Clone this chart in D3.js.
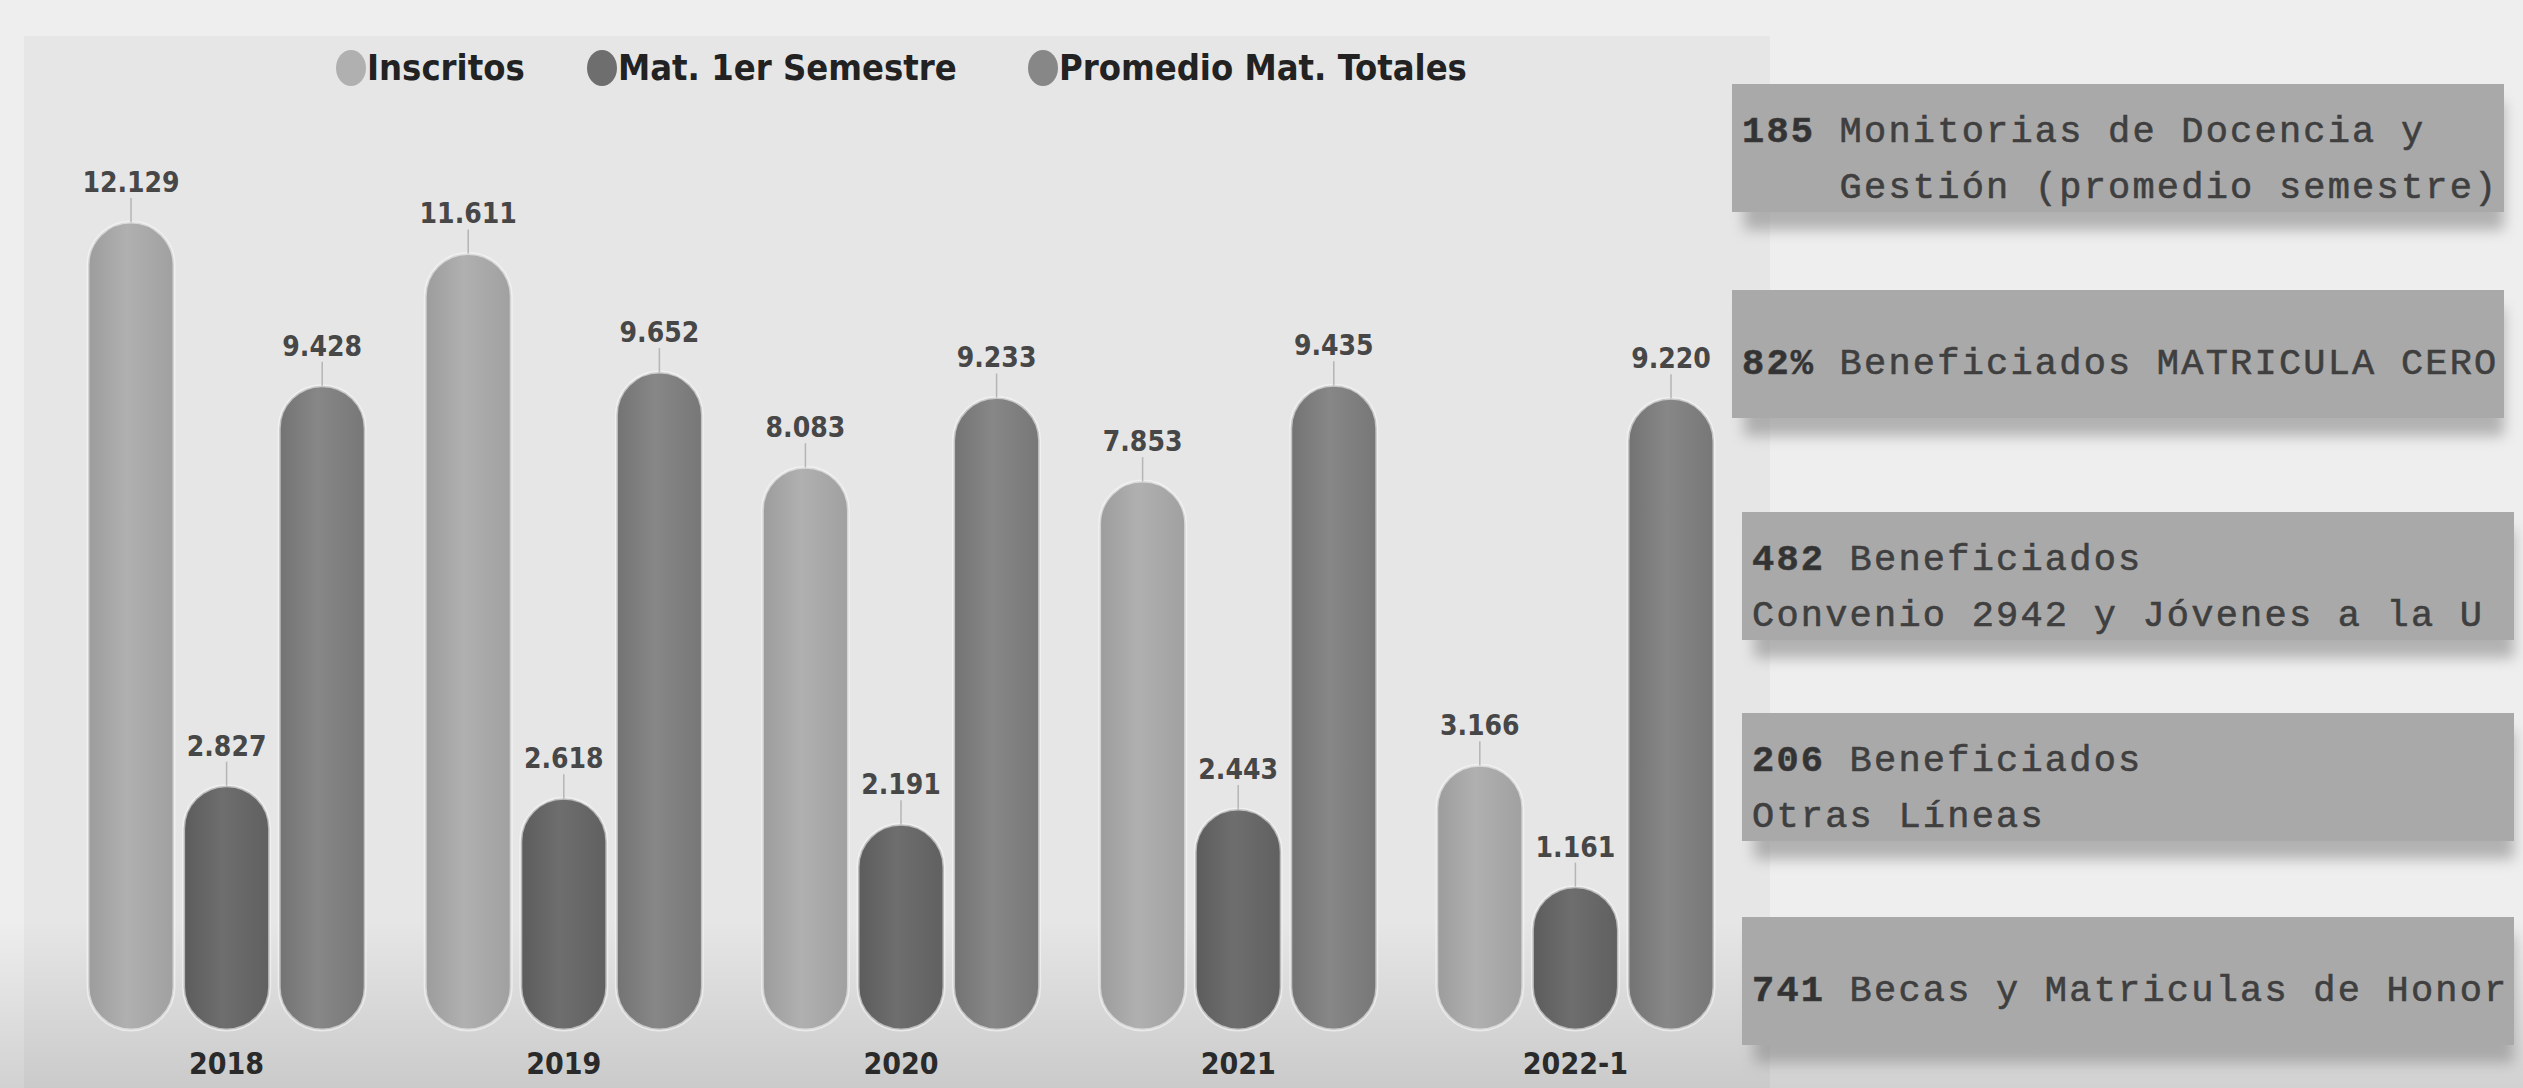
<!DOCTYPE html>
<html>
<head>
<meta charset="utf-8">
<script src="https://cdn.jsdelivr.net/npm/d3@7"></script>
<style>
  body { margin: 0; background: #ececec; }
  svg { display: block; }
  .lbl { font-family: "Liberation Sans Narrow", "DejaVu Sans Condensed", "Open Sans", sans-serif; font-stretch: condensed; }
  .mono { font-family: "Liberation Mono", "DejaVu Sans Mono", monospace; white-space: pre; }
</style>
</head>
<body>
<div class="container"></div>
<script>
// chart data
var years = ["2018", "2019", "2020", "2021", "2022-1"];
var seriesNames = ["Inscritos", "Mat. 1er Semestre", "Promedio Mat. Totales"];
var inscritos = [12129, 11611, 8083, 7853, 3166];
var matPrimer = [2827, 2618, 2191, 2443, 1161];
var promedioTotales = [9428, 9652, 9233, 9435, 9220];

// side boxes
var boxNumbers = ["185", "82%", "482", "206", "741"];
var boxFirstLines = ["Monitorias de Docencia y", "Beneficiados MATRICULA CERO", "Beneficiados", "Beneficiados", "Becas y Matriculas de Honor"];
var boxSecondLines = ["    Gestión (promedio semestre)", "", "Convenio 2942 y Jóvenes a la U", "Otras Líneas", ""];

var svgWidth = 2523;
var svgHeight = 1088;
var baseY = 1030;

var svg = d3.select(".container").append("svg")
  .attr("width", svgWidth)
  .attr("height", svgHeight);

var defs = svg.append("defs");

// background
svg.append("rect").attr("width", svgWidth).attr("height", svgHeight).attr("fill", "#eeeeee");
svg.append("rect").attr("x", 24).attr("y", 36).attr("width", 1746).attr("height", svgHeight - 36).attr("fill", "#e6e6e6");
var bottomGrad = defs.append("linearGradient").attr("id", "bottomShade").attr("x1", 0).attr("y1", 0).attr("x2", 0).attr("y2", 1);
bottomGrad.append("stop").attr("offset", "0%").attr("stop-color", "#000").attr("stop-opacity", 0);
bottomGrad.append("stop").attr("offset", "100%").attr("stop-color", "#000").attr("stop-opacity", 0.12);
svg.append("rect").attr("x", 0).attr("y", 920).attr("width", svgWidth).attr("height", 168).attr("fill", "url(#bottomShade)");

// bar colours with a soft cylinder shading
var barColors = [
  ["#9c9c9c", "#b0b0b0", "#a0a0a0"],
  ["#5c5c5c", "#6e6e6e", "#606060"],
  ["#737373", "#878787", "#777777"]
];
barColors.forEach(function(c, i) {
  var g = defs.append("linearGradient").attr("id", "barGrad" + i);
  g.append("stop").attr("offset", "0%").attr("stop-color", c[0]);
  g.append("stop").attr("offset", "45%").attr("stop-color", c[1]);
  g.append("stop").attr("offset", "100%").attr("stop-color", c[2]);
});

var blur = defs.append("filter").attr("id", "shadow").attr("x", "-10%").attr("y", "-30%").attr("width", "120%").attr("height", "180%");
blur.append("feGaussianBlur").attr("stdDeviation", 7);

// scales
var x0 = d3.scaleBand().domain(years).range([58, 1744]);
var x1 = d3.scaleBand().domain(seriesNames).range([30, x0.bandwidth() - 30]).paddingInner(0.1);
var y = d3.scaleLinear().domain([0, d3.max(inscritos)]).range([957, 222]);

var fmt = d3.formatLocale({ decimal: ",", thousands: ".", grouping: [3], currency: ["$", ""] }).format(",");

var rows = [];
years.forEach(function(yr, i) {
  [inscritos[i], matPrimer[i], promedioTotales[i]].forEach(function(v, s) {
    rows.push({ year: yr, series: seriesNames[s], s: s, value: v });
  });
});

var chartGroup = svg.append("g");

chartGroup.selectAll("rect.bar")
  .data(rows)
  .enter()
  .append("rect")
  .attr("class", "bar")
  .attr("x", d => x0(d.year) + x1(d.series))
  .attr("y", d => y(d.value))
  .attr("width", x1.bandwidth())
  .attr("height", d => baseY - y(d.value))
  .attr("rx", x1.bandwidth() / 2)
  .attr("fill", d => "url(#barGrad" + d.s + ")")
  .attr("stroke", "#f6f6f6")
  .attr("stroke-opacity", 0.6)
  .attr("stroke-width", 3);

// connector ticks
chartGroup.selectAll("line.tick")
  .data(rows)
  .enter()
  .append("line")
  .attr("x1", d => x0(d.year) + x1(d.series) + x1.bandwidth() / 2)
  .attr("x2", d => x0(d.year) + x1(d.series) + x1.bandwidth() / 2)
  .attr("y1", d => y(d.value) - 24)
  .attr("y2", d => y(d.value))
  .attr("stroke", "#b5b5b5")
  .attr("stroke-width", 1.5);

// value labels
chartGroup.selectAll("text.val")
  .data(rows)
  .enter()
  .append("text")
  .attr("class", "lbl")
  .attr("x", d => x0(d.year) + x1(d.series) + x1.bandwidth() / 2)
  .attr("y", d => y(d.value) - 30)
  .attr("text-anchor", "middle")
  .attr("font-size", 28)
  .attr("font-weight", 700)
  .attr("fill", "#474747")
  .text(d => fmt(d.value));

// year labels
chartGroup.selectAll("text.year")
  .data(years)
  .enter()
  .append("text")
  .attr("class", "lbl")
  .attr("x", d => x0(d) + x1(seriesNames[1]) + x1.bandwidth() / 2)
  .attr("y", 1074)
  .attr("text-anchor", "middle")
  .attr("font-size", 30)
  .attr("font-weight", 700)
  .attr("fill", "#2a2a2a")
  .text(d => d);

// legend
var legendX = [351, 602, 1043];
var legend = svg.append("g").selectAll("g")
  .data(seriesNames)
  .enter()
  .append("g")
  .attr("transform", (d, i) => `translate(${legendX[i]}, 68)`);

legend.append("ellipse")
  .attr("rx", 15)
  .attr("ry", 18)
  .attr("fill", (d, i) => barColors[i][1]);

legend.append("text")
  .attr("class", "lbl")
  .attr("x", 16)
  .attr("y", 12)
  .attr("font-size", 36)
  .attr("font-weight", 700)
  .attr("fill", "#222")
  .text(d => d);

// highlight boxes on the right
var boxTops = [84, 290, 512, 713, 917];
var boxes = svg.append("g").selectAll("g")
  .data(boxNumbers)
  .enter()
  .append("g")
  .attr("transform", (d, i) => `translate(${i < 2 ? 1732 : 1742}, ${boxTops[i]})`);

boxes.append("rect")
  .attr("x", 12)
  .attr("y", 18)
  .attr("width", 760)
  .attr("height", 128)
  .attr("fill", "#8a8a8a")
  .attr("opacity", 0.6)
  .attr("filter", "url(#shadow)");

boxes.append("rect")
  .attr("width", 772)
  .attr("height", 128)
  .attr("fill", "#a9a9a9");

var boxText = boxes.append("text")
  .attr("class", "mono")
  .attr("x", 10)
  .attr("y", (d, i) => boxSecondLines[i] ? 58 : 84)
  .attr("font-size", 37)
  .attr("letter-spacing", 2.2)
  .attr("fill", "#3f3f3f")
  .attr("stroke", "#3f3f3f")
  .attr("stroke-width", 0.6);

boxText.append("tspan")
  .attr("font-weight", 700)
  .attr("fill", "#333")
  .text(d => d);

boxText.append("tspan")
  .text((d, i) => " " + boxFirstLines[i]);

boxes.append("text")
  .attr("class", "mono")
  .attr("x", 10)
  .attr("y", 114)
  .attr("font-size", 37)
  .attr("letter-spacing", 2.2)
  .attr("fill", "#3f3f3f")
  .attr("stroke", "#3f3f3f")
  .attr("stroke-width", 0.6)
  .text((d, i) => boxSecondLines[i]);
</script>
</body>
</html>
